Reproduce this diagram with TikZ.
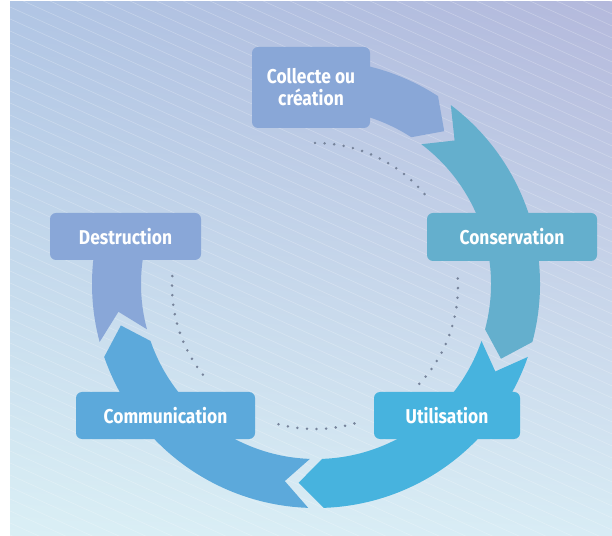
\documentclass[tikz,border=0pt]{standalone}
\usepackage{fontspec}
\setmainfont{Fira Sans}[FakeStretch=0.87]
\usetikzlibrary{shadings}
\definecolor{bgtl}{HTML}{B0C5E4}
\definecolor{bgtr}{HTML}{B4B9DC}
\definecolor{bgbl}{HTML}{DAEFF5}
\definecolor{bgbr}{HTML}{D8ECF5}
\definecolor{collectec}{HTML}{89A7D7}
\definecolor{conservc}{HTML}{64AFCD}
\definecolor{utilc}{HTML}{47B3DE}
\definecolor{commc}{HTML}{5CA9DB}
\definecolor{destrc}{HTML}{89A7D8}
\definecolor{dotgray}{HTML}{76839A}
\begin{document}
\begin{tikzpicture}[x=1pt,y=1pt,
  stagebox/.style={rectangle, rounded corners=6pt, inner sep=0pt, text=white,
    font=\bfseries\fontsize{20}{22}\selectfont, align=center},
  dotring/.style={draw=dotgray, line width=2.8pt, line cap=round,
    dash pattern=on 0pt off 9.6pt},
  stripe/.style={draw=white, line width=0.6pt, opacity=0.25}]
\useasboundingbox (0,0) rectangle (612,535);

% backdrop with soft diagonal hairlines
\shade[upper left=bgtl, upper right=bgtr, lower left=bgbl, lower right=bgbr]
  (10,0) rectangle (612,533);
\begin{scope}
  \clip (10,0) rectangle (612,533);
  \foreach \k in {0,...,70}
    \draw[stripe] (10,\k*12) -- ++(620,-279);
\end{scope}

% ring of curved arrows
\begin{scope}[shift={(316,251)}]
  \fill[collectec] (100:224) arc[start angle=100, end angle=57, radius=224]
    -- (50:199.5) -- (57:175) arc[start angle=57, end angle=100, radius=175] -- cycle;
  \fill[conservc] (53:224) arc[start angle=53, end angle=-15, radius=224]
    -- (-22:199.5) -- (-15:175) arc[start angle=-15, end angle=53, radius=175]
    -- (46:199.5) -- cycle;
  \fill[utilc] (-19:224) arc[start angle=-19, end angle=-88, radius=224]
    -- (-95:199.5) -- (-88:175) arc[start angle=-88, end angle=-19, radius=175]
    -- (-26:199.5) -- cycle;
  \fill[commc] (-92:224) arc[start angle=-92, end angle=-161, radius=224]
    -- (-168:199.5) -- (-161:175) arc[start angle=-161, end angle=-92, radius=175]
    -- (-99:199.5) -- cycle;
  \fill[destrc] (195:224) arc[start angle=195, end angle=172, radius=224]
    -- (172:175) arc[start angle=172, end angle=195, radius=175]
    -- (188:199.5) -- cycle;
\end{scope}

% dotted inner guide
\begin{scope}[shift={(315,249)}]
  \draw[dotring] (90:143) arc[start angle=90, end angle=37, radius=143];
  \draw[dotring] (3:143) arc[start angle=3, end angle=-44, radius=143];
  \draw[dotring] (-74:143) arc[start angle=-74, end angle=-106, radius=143];
  \draw[dotring] (176:143) arc[start angle=176, end angle=222, radius=143];
\end{scope}

% stage labels
\node[stagebox, fill=collectec, minimum width=118pt, minimum height=81pt]
  (collecte) at (311,447.5) {Collecte ou\\création};
\node[stagebox, fill=conservc, minimum width=170pt, minimum height=48pt]
  (conservation) at (512,298) {Conservation};
\node[stagebox, fill=utilc, minimum width=146pt, minimum height=47pt]
  (utilisation) at (447,119.5) {Utilisation};
\node[stagebox, fill=commc, minimum width=179pt, minimum height=47pt]
  (communication) at (165.5,119.5) {Communication};
\node[stagebox, fill=destrc, minimum width=151pt, minimum height=47pt]
  (destruction) at (125.5,298.5) {Destruction};
\end{tikzpicture}
\end{document}
